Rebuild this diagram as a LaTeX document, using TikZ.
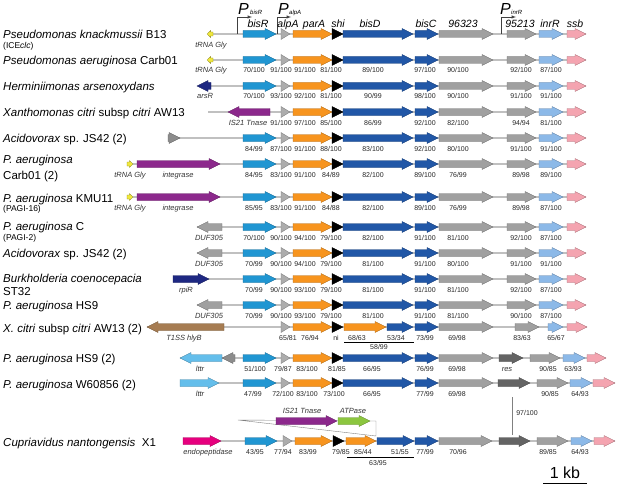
\documentclass[tikz,border=0pt]{standalone}
\usepackage{fontspec}
\setmainfont{Liberation Sans}
\usetikzlibrary{arrows}

\definecolor{bisrblue}{RGB}{32,150,210}
\definecolor{alpagray}{RGB}{172,172,172}
\definecolor{paraorange}{RGB}{247,148,30}
\definecolor{bisblue}{RGB}{33,87,167}
\definecolor{midgray}{RGB}{160,160,160}
\definecolor{trigray}{RGB}{140,140,140}
\definecolor{inrblue}{RGB}{140,185,232}
\definecolor{ssbpink}{RGB}{244,164,176}
\definecolor{trnayellow}{RGB}{240,232,60}
\definecolor{rpinavy}{RGB}{30,40,130}
\definecolor{tnpurple}{RGB}{140,40,140}
\definecolor{hlybrown}{RGB}{166,124,82}
\definecolor{lttrblue}{RGB}{100,190,235}
\definecolor{resgray}{RGB}{100,100,100}
\definecolor{endomagenta}{RGB}{230,0,126}
\definecolor{atpgreen}{RGB}{140,198,63}
\definecolor{linegray}{RGB}{192,192,192}

\newcommand{\fsz}[1]{\fontsize{#1}{#1}\selectfont}

% gene arrow: from x #1 to tip x #2, on row #3, filled with #4
\newcommand{\genearrow}[4]{%
  \pgfmathsetmacro\gdir{ifthenelse(#2>#1,1,-1)}%
  \pgfmathsetmacro\ghead{min(11,abs(#2-#1))}%
  \pgfmathsetmacro\gneck{#2-\gdir*\ghead}%
  \filldraw[genebody, fill=#4, draw=#4!70!black]
    (#1,#3-3.5) -- (\gneck,#3-3.5) -- (\gneck,#3-5.5) -- (#2,#3)
    -- (\gneck,#3+5.5) -- (\gneck,#3+3.5) -- (#1,#3+3.5) -- cycle;}

% small tRNA mark: tip x #1, back x #2, row #3
\newcommand{\trnamark}[3]{%
  \pgfmathsetmacro\tneck{#1+0.6*(#2-#1)}%
  \filldraw[genebody, fill=trnayellow, draw=trnayellow!60!black]
    (#1,#3) -- (\tneck,#3-3.5) -- (\tneck,#3-2) -- (#2,#3-2)
    -- (#2,#3+2) -- (\tneck,#3+2) -- (\tneck,#3+3.5) -- cycle;}

% alpA ... ssb, shared by the aligned rows
\newcommand{\coregenes}[1]{%
  \genearrow{281}{290}{#1}{alpagray}
  \genearrow{293}{332}{#1}{paraorange}
  \genearrow{332}{343}{#1}{black}
  \genearrow{343}{413}{#1}{bisblue}
  \genearrow{415}{438}{#1}{bisblue}
  \genearrow{439}{493}{#1}{midgray}
  \genearrow{507}{536}{#1}{midgray}
  \genearrow{539}{563}{#1}{inrblue}
  \genearrow{567}{586}{#1}{ssbpink}}

% identity labels under the aligned rows: row y, then nine values
\newcommand{\coreids}[1]{\def\rowy{#1}\coreidsrest}
\newcommand{\coreidsrest}[9]{%
  \node[ident] at (254,\rowy+13) {#1};
  \node[ident] at (281,\rowy+13) {#2};
  \node[ident] at (305,\rowy+13) {#3};
  \node[ident] at (331,\rowy+13) {#4};
  \node[ident] at (373,\rowy+13) {#5};
  \node[ident] at (425,\rowy+13) {#6};
  \node[ident] at (458,\rowy+13) {#7};
  \node[ident] at (521,\rowy+13) {#8};
  \node[ident] at (551,\rowy+13) {#9};}

\begin{document}
\begin{tikzpicture}[x=1pt, y=-1pt,
  genebody/.style={line width=0.3pt, line join=miter},
  backbone/.style={draw=linegray, line width=1.2pt},
  orgname/.style={anchor=base west, inner sep=0pt, font=\fsz{11.5}},
  orgnote/.style={anchor=base west, inner sep=0pt, font=\fsz{8.5}},
  genename/.style={anchor=base, inner sep=0pt, font=\fsz{10.5}\itshape},
  genetag/.style={anchor=base, inner sep=0pt, font=\fsz{7.5}\itshape, text=black!80},
  ident/.style={anchor=base, inner sep=0pt, font=\fsz{7}, text=black!85},
  pletter/.style={anchor=base west, inner sep=0pt, font=\fsz{16}\itshape},
  psub/.style={anchor=base west, inner sep=0pt, font=\fsz{6}\itshape},
  promoter/.style={draw=black!75, line width=0.5pt, -latex},
  wedge/.style={draw=black!50, line width=0.4pt},
  simbar/.style={draw=black, line width=0.7pt}]

\useasboundingbox (0,0) rectangle (617,484);

% ROW 1 - P. knackmussii B13

\node[orgname] (knack) at (3,38.5) {\textit{Pseudomonas knackmussii} B13};
\node[orgnote] (knacknote) at (3,48.5) {(ICE\textit{clc})};
\draw[backbone] (210,34) -- (586,34);
\trnamark{207}{213}{34}
\genearrow{243}{276}{34}{bisrblue}
\coregenes{34}
\node[genetag] at (211,48) {tRNA Gly};
\draw[promoter] (237,34) -- (237,17) -- (252,17);
\draw[promoter] (277,34) -- (277,17) -- (291,17);
\draw[promoter] (501,34) -- (501,17) -- (516,17);
\node[pletter] (pbisr) at (238,14.5) {P};
\node[psub] at (250,15) {bisR};
\node[pletter] (palpa) at (278,14.5) {P};
\node[psub] at (289,15) {alpA};
\node[pletter] (pinrr) at (500,14.5) {P};
\node[psub] at (511,15) {inrR};
\node[genename] at (258,28) {bisR};
\node[genename] at (288,28) {alpA};
\node[genename] at (314,28) {parA};
\node[genename] at (338,28) {shi};
\node[genename] at (370,28) {bisD};
\node[genename] at (426,28) {bisC};
\node[genename] at (463,28) {96323};
\node[genename] at (520,28) {95213};
\node[genename] at (550,28) {inrR};
\node[genename] at (575,28) {ssb};

% ROW 2 - P. aeruginosa Carb01

\node[orgname] (carb) at (3,64.5) {\textit{Pseudomonas aeruginosa} Carb01};
\draw[backbone] (210,60) -- (586,60);
\trnamark{207}{213}{60}
\genearrow{243}{276}{60}{bisrblue}
\coregenes{60}
\node[genetag] at (211,73) {tRNA Gly};
\coreids{60}{70/100}{91/100}{91/100}{81/100}{89/100}{97/100}{90/100}{92/100}{87/100}

% ROW 3 - Herminiimonas

\node[orgname] (herm) at (3,90.5) {\textit{Herminiimonas arsenoxydans}};
\draw[backbone] (200,86) -- (586,86);
\genearrow{211}{197}{86}{rpinavy}
\genearrow{243}{276}{86}{bisrblue}
\coregenes{86}
\node[genetag] at (205,99) {arsR};
\coreids{86}{70/100}{93/100}{92/100}{81/100}{90/99}{98/100}{90/100}{91/100}{91/100}

% ROW 4 - Xanthomonas citri

\node[orgname] (xcitri) at (3,116.5) {\textit{Xanthomonas citri} subsp \textit{citri} AW13};
\draw[backbone] (208,112) -- (586,112);
\genearrow{270}{228}{112}{tnpurple}
\coregenes{112}
\node[genetag] at (248,125) {IS21 Tnase};
\coreids{112}{}{91/100}{97/100}{85/100}{86/99}{92/100}{82/100}{94/94}{81/100}

% ROW 5 - Acidovorax (2)

\node[orgname] (acido) at (3,142.5) {\textit{Acidovorax} sp. JS42 (2)};
\draw[backbone] (168,138) -- (586,138);
\genearrow{168}{180}{138}{trigray}
\genearrow{243}{276}{138}{bisrblue}
\coregenes{138}
\coreids{138}{84/99}{87/100}{91/100}{88/100}{83/100}{92/100}{80/100}{91/100}{91/100}

% ROW 6 - P. aeruginosa Carb01 (2)

\node[orgname] (carbb) at (3,163.5) {\textit{P. aeruginosa}};
\node[orgname] (carbbnote) at (3,179.5) {Carb01 (2)};
\draw[backbone] (127,164) -- (586,164);
\trnamark{133}{127}{164}
\genearrow{137}{220}{164}{tnpurple}
\genearrow{243}{276}{164}{bisrblue}
\coregenes{164}
\node[genetag] at (130,177) {tRNA Gly};
\node[genetag] at (178,177) {integrase};
\coreids{164}{84/95}{83/100}{91/100}{84/89}{82/100}{89/100}{76/99}{89/98}{89/100}

% ROW 7 - P. aeruginosa KMU11

\node[orgname] (kmu) at (3,202) {\textit{P. aeruginosa} KMU11};
\node[orgnote] (kmunote) at (3,211.5) {(PAGI-16)};
\draw[backbone] (127,197) -- (586,197);
\trnamark{133}{127}{197}
\genearrow{137}{220}{197}{tnpurple}
\genearrow{243}{276}{197}{bisrblue}
\coregenes{197}
\node[genetag] at (130,210) {tRNA Gly};
\node[genetag] at (178,210) {integrase};
\coreids{197}{85/95}{83/100}{91/100}{84/88}{82/100}{89/100}{76/99}{89/98}{87/100}

% ROW 8 - P. aeruginosa C

\node[orgname] (pac) at (3,230.5) {\textit{P. aeruginosa} C};
\node[orgnote] (pacnote) at (3,240) {(PAGI-2)};
\draw[backbone] (197,227) -- (586,227);
\genearrow{222}{197}{227}{midgray}
\genearrow{243}{276}{227}{bisrblue}
\coregenes{227}
\node[genetag] at (209,240) {DUF305};
\coreids{227}{70/100}{90/100}{94/100}{79/100}{82/100}{91/100}{81/100}{92/100}{87/100}

% ROW 9 - Acidovorax (2)

\node[orgname] (acidob) at (3,257.5) {\textit{Acidovorax} sp. JS42 (2)};
\draw[backbone] (197,253) -- (586,253);
\genearrow{222}{197}{253}{midgray}
\genearrow{243}{276}{253}{bisrblue}
\coregenes{253}
\node[genetag] at (209,266) {DUF305};
\coreids{253}{70/99}{90/100}{94/100}{79/100}{81/100}{91/100}{80/100}{91/100}{91/100}

% ROW 10 - Burkholderia

\node[orgname] (burk) at (3,282.5) {\textit{Burkholderia coenocepacia}};
\node[orgname] (burknote) at (3,295.5) {ST32};
\draw[backbone] (173,279) -- (586,279);
\genearrow{173}{209}{279}{rpinavy}
\genearrow{243}{276}{279}{bisrblue}
\coregenes{279}
\node[genetag] at (186,292) {rpiR};
\coreids{279}{70/99}{90/100}{93/100}{79/100}{81/100}{91/100}{81/100}{92/100}{87/100}

% ROW 11 - P. aeruginosa HS9

\node[orgname] (hs) at (3,309.5) {\textit{P. aeruginosa} HS9};
\draw[backbone] (197,305) -- (586,305);
\genearrow{222}{197}{305}{midgray}
\genearrow{243}{276}{305}{bisrblue}
\coregenes{305}
\node[genetag] at (209,318) {DUF305};
\coreids{305}{70/99}{90/100}{93/100}{79/100}{81/100}{91/100}{81/100}{90/100}{87/100}

% ROW 12 - X. citri (2)

\node[orgname] (xcitrib) at (3,332) {\textit{X. citri} subsp \textit{citri} AW13 (2)};
\draw[backbone] (147,327) -- (587,327);
\genearrow{224}{147}{327}{hlybrown}
\genearrow{281}{290}{327}{alpagray}
\genearrow{293}{332}{327}{paraorange}
\genearrow{332}{343}{327}{black}
\genearrow{344}{386}{327}{paraorange}
\genearrow{387}{413}{327}{bisblue}
\genearrow{415}{438}{327}{bisblue}
\genearrow{439}{493}{327}{midgray}
\genearrow{515}{539}{327}{midgray}
\genearrow{548}{563}{327}{inrblue}
\genearrow{567}{587}{327}{ssbpink}
\node[genetag] at (184,340) {T1SS hlyB};
\node[ident] at (288,340) {65/81};
\node[ident] at (310,340) {76/94};
\node[ident] at (336,340) {ni};
\node[ident] at (357,340) {68/63};
\node[ident] at (396,340) {53/34};
\node[ident] at (425,340) {73/99};
\node[ident] at (457,340) {69/98};
\node[ident] at (522,340) {83/63};
\node[ident] at (556,340) {65/67};
\draw[simbar] (344,342) -- (414,342);
\node[ident] at (379,349.5) {58/99};

% ROW 13 - P. aeruginosa HS9 (2)

\node[orgname] (hsb) at (3,362.5) {\textit{P. aeruginosa} HS9 (2)};
\draw[backbone] (180,358) -- (606,358);
\genearrow{222}{180}{358}{lttrblue}
\genearrow{235}{222}{358}{trigray}
\genearrow{243}{276}{358}{bisrblue}
\genearrow{281}{290}{358}{alpagray}
\genearrow{293}{332}{358}{paraorange}
\genearrow{332}{343}{358}{black}
\genearrow{343}{413}{358}{bisblue}
\genearrow{415}{438}{358}{bisblue}
\genearrow{439}{493}{358}{midgray}
\genearrow{499}{523}{358}{resgray}
\genearrow{530}{560}{358}{midgray}
\genearrow{563}{585}{358}{inrblue}
\genearrow{587}{606}{358}{ssbpink}
\node[genetag] at (200,371) {lttr};
\node[genetag] at (507,371) {res};
\node[ident] at (255,371) {51/100};
\node[ident] at (283,371) {79/87};
\node[ident] at (307,371) {83/100};
\node[ident] at (337,371) {81/85};
\node[ident] at (372,371) {66/95};
\node[ident] at (425,371) {76/99};
\node[ident] at (457,371) {69/98};
\node[ident] at (548,371) {90/85};
\node[ident] at (573,371) {63/93};

% ROW 14 - P. aeruginosa W60856 (2)

\node[orgname] (wsix) at (3,388) {\textit{P. aeruginosa} W60856 (2)};
\draw[backbone] (180,383) -- (615,383);
\genearrow{180}{219}{383}{lttrblue}
\genearrow{243}{276}{383}{bisrblue}
\genearrow{281}{290}{383}{alpagray}
\genearrow{293}{332}{383}{paraorange}
\genearrow{332}{343}{383}{black}
\genearrow{343}{413}{383}{bisblue}
\genearrow{415}{438}{383}{bisblue}
\genearrow{439}{493}{383}{midgray}
\genearrow{498}{530}{383}{resgray}
\genearrow{537}{568}{383}{midgray}
\genearrow{570}{592}{383}{inrblue}
\genearrow{593}{615}{383}{ssbpink}
\node[genetag] at (200,396) {lttr};
\node[ident] at (253,396) {47/99};
\node[ident] at (283,396) {72/100};
\node[ident] at (307,396) {83/100};
\node[ident] at (334,396) {73/100};
\node[ident] at (372,396) {66/95};
\node[ident] at (425,396) {77/99};
\node[ident] at (457,396) {69/98};
\node[ident] at (550,396) {90/85};
\node[ident] at (580,396) {64/93};

% res link between rows 14 and 15

\coordinate (restop) at (512,397);
\coordinate (resbot) at (512,435);
\draw[wedge] (restop) -- (resbot);
\node[ident] at (527,415.5) {97/100};

% INSERTION ABOVE ROW 15

\coordinate (wedgetip) at (238,420);
\coordinate (wedgeup) at (376,421);
\coordinate (wedgelow) at (376,436);
\draw[wedge] (wedgetip) -- (wedgeup) -- (wedgelow) -- cycle;
\genearrow{276}{337}{421}{tnpurple}
\genearrow{338}{370}{421}{atpgreen}
\node[genetag] at (302,413) {IS21 Tnase};
\node[genetag] at (353,413) {ATPase};

% ROW 15 - Cupriavidus nantongensis X1

\node[orgname] (cupri) at (3,446) {\textit{Cupriavidus nantongensis}\ \ X1};
\draw[backbone] (183,441) -- (615,441);
\genearrow{183}{221}{441}{endomagenta}
\genearrow{245}{277}{441}{bisrblue}
\genearrow{283}{292}{441}{alpagray}
\genearrow{295}{332}{441}{paraorange}
\genearrow{333}{344}{441}{black}
\genearrow{346}{376}{441}{paraorange}
\genearrow{377}{414}{441}{bisblue}
\genearrow{415}{438}{441}{bisblue}
\genearrow{439}{492}{441}{midgray}
\genearrow{499}{530}{441}{resgray}
\genearrow{537}{568}{441}{midgray}
\genearrow{571}{592}{441}{inrblue}
\genearrow{594}{615}{441}{ssbpink}
\node[genetag] at (208,454) {endopeptidase};
\node[ident] at (255,454) {43/95};
\node[ident] at (283,454) {77/94};
\node[ident] at (308,454) {83/99};
\node[ident] at (341,454) {79/85};
\node[ident] at (363,454) {85/44};
\node[ident] at (400,454) {51/55};
\node[ident] at (425,454) {77/99};
\node[ident] at (458,454) {70/96};
\node[ident] at (548,454) {89/85};
\node[ident] at (580,454) {64/93};
\draw[simbar] (347,457) -- (414,457);
\node[ident] at (378,465) {63/95};

% SCALE BAR

\coordinate (kbleft) at (543,483);
\coordinate (kbright) at (587,483);
\draw[line width=0.9pt] (kbleft) -- (kbright);
\node[anchor=base, inner sep=0pt, font=\fsz{16}] (kb) at (565,478) {1 kb};

\end{tikzpicture}
\end{document}
